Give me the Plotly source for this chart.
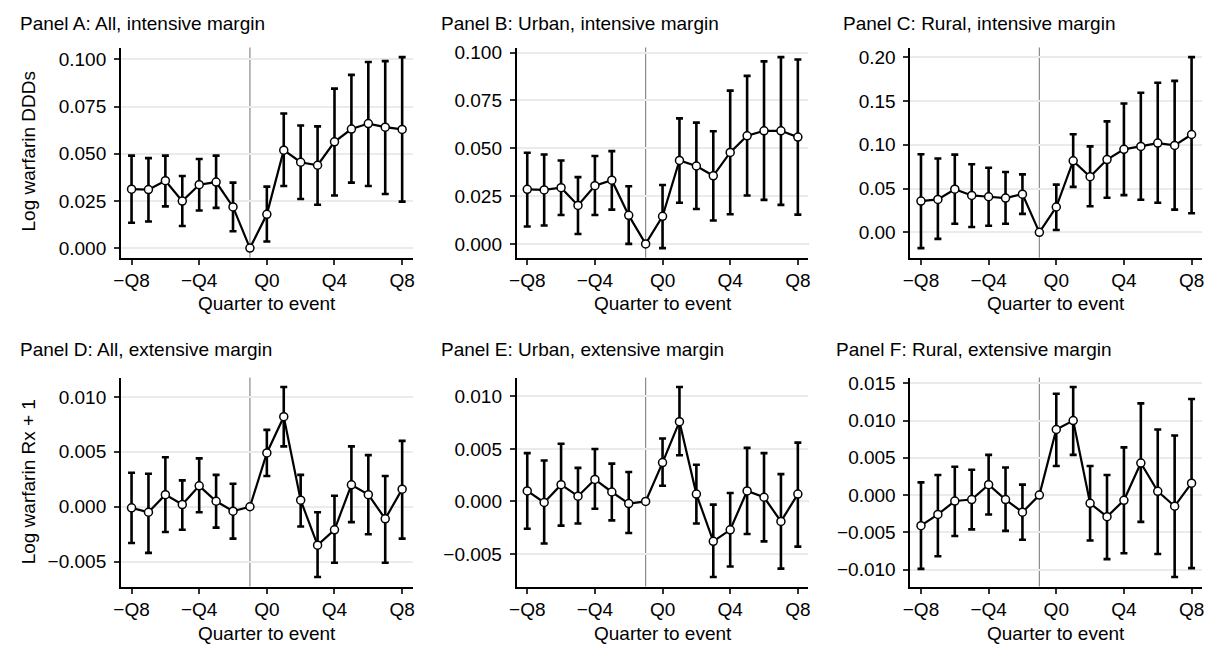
import plotly.graph_objects as go

# Event-study estimates by quarter relative to the event (Q-1 is the reference period)
quarters = list(range(-8, 9))
x_tickvals = [-8, -4, 0, 4, 8]
x_ticktext = ["\u2212Q8", "\u2212Q4", "Q0", "Q4", "Q8"]

# Panel A: All, intensive margin
a_est = [0.0312, 0.0310, 0.0357, 0.0249, 0.0336, 0.0350, 0.0218, 0.0, 0.0179, 0.0519, 0.0455, 0.0439, 0.0563, 0.0631, 0.0660, 0.0641, 0.0629]
a_lo = [0.0134, 0.0141, 0.0221, 0.0117, 0.0199, 0.0213, 0.0089, None, 0.0035, 0.0329, 0.0260, 0.0230, 0.0279, 0.0347, 0.0329, 0.0287, 0.0246]
a_hi = [0.0490, 0.0477, 0.0490, 0.0382, 0.0472, 0.0490, 0.0347, None, 0.0326, 0.0713, 0.0650, 0.0645, 0.0845, 0.0918, 0.0986, 0.0991, 0.1012]

# Panel B: Urban, intensive margin
b_est = [0.0285, 0.0282, 0.0294, 0.0201, 0.0304, 0.0333, 0.0149, 0.0, 0.0144, 0.0436, 0.0407, 0.0356, 0.0478, 0.0565, 0.0591, 0.0591, 0.0558]
b_lo = [0.0091, 0.0096, 0.0151, 0.0052, 0.0151, 0.0179, 0.0000, None, -0.0022, 0.0215, 0.0182, 0.0122, 0.0155, 0.0253, 0.0230, 0.0204, 0.0153]
b_hi = [0.0476, 0.0467, 0.0436, 0.0349, 0.0459, 0.0485, 0.0301, None, 0.0308, 0.0656, 0.0634, 0.0589, 0.0801, 0.0878, 0.0954, 0.0976, 0.0964]

# Panel C: Rural, intensive margin
c_est = [0.0357, 0.0376, 0.0492, 0.0421, 0.0406, 0.0391, 0.0436, 0.0, 0.0289, 0.0816, 0.0635, 0.0831, 0.0947, 0.0981, 0.1019, 0.0992, 0.1117]
c_lo = [-0.0180, -0.0075, 0.0098, 0.0060, 0.0075, 0.0098, 0.0211, None, 0.0026, 0.0519, 0.0297, 0.0395, 0.0425, 0.0372, 0.0338, 0.0259, 0.0218]
c_hi = [0.0891, 0.0842, 0.0887, 0.0778, 0.0737, 0.0688, 0.0662, None, 0.0545, 0.1120, 0.0981, 0.1267, 0.1470, 0.1594, 0.1707, 0.1729, 0.2000]

# Panel D: All, extensive margin
d_est = [-0.0001, -0.0005, 0.0011, 0.0002, 0.0019, 0.0005, -0.0004, 0.0, 0.0049, 0.0082, 0.0006, -0.0035, -0.0021, 0.0020, 0.0011, -0.0011, 0.0016]
d_lo = [-0.0033, -0.0042, -0.0023, -0.0021, -0.0005, -0.0019, -0.0029, None, 0.0028, 0.0055, -0.0018, -0.0064, -0.0051, -0.0014, -0.0025, -0.0051, -0.0029]
d_hi = [0.0031, 0.0030, 0.0045, 0.0024, 0.0044, 0.0029, 0.0021, None, 0.0070, 0.0109, 0.0029, -0.0005, 0.0010, 0.0055, 0.0047, 0.0028, 0.0060]

# Panel E: Urban, extensive margin
e_est = [0.0010, -0.0001, 0.0016, 0.0005, 0.0021, 0.0009, -0.0002, 0.0, 0.0037, 0.0076, 0.0007, -0.0038, -0.0027, 0.0010, 0.0004, -0.0019, 0.0007]
e_lo = [-0.0026, -0.0040, -0.0023, -0.0021, -0.0007, -0.0018, -0.0030, None, 0.0015, 0.0044, -0.0021, -0.0072, -0.0062, -0.0031, -0.0038, -0.0064, -0.0043]
e_hi = [0.0046, 0.0039, 0.0055, 0.0032, 0.0050, 0.0036, 0.0028, None, 0.0060, 0.0109, 0.0035, -0.0003, 0.0008, 0.0051, 0.0046, 0.0026, 0.0056]

# Panel F: Rural, extensive margin
f_est = [-0.0041, -0.0026, -0.0008, -0.0006, 0.0014, -0.0006, -0.0023, 0.0, 0.0088, 0.0100, -0.0011, -0.0029, -0.0007, 0.0043, 0.0005, -0.0015, 0.0016]
f_lo = [-0.0099, -0.0082, -0.0055, -0.0046, -0.0026, -0.0048, -0.0060, None, 0.0039, 0.0054, -0.0061, -0.0086, -0.0078, -0.0036, -0.0079, -0.0110, -0.0098]
f_hi = [0.0017, 0.0027, 0.0038, 0.0034, 0.0054, 0.0037, 0.0014, None, 0.0136, 0.0145, 0.0039, 0.0027, 0.0064, 0.0123, 0.0088, 0.0080, 0.0129]

titles = [
    "Panel A: All, intensive margin",
    "Panel B: Urban, intensive margin",
    "Panel C: Rural, intensive margin",
    "Panel D: All, extensive margin",
    "Panel E: Urban, extensive margin",
    "Panel F: Rural, extensive margin",
]
y_titles = ["Log warfarin DDDs", "Log warfarin Rx + 1"]
x_title = "Quarter to event"

y_ticks = [
    [0.0, 0.025, 0.05, 0.075, 0.1],
    [0.0, 0.025, 0.05, 0.075, 0.1],
    [0.0, 0.05, 0.1, 0.15, 0.2],
    [-0.005, 0.0, 0.005, 0.01],
    [-0.005, 0.0, 0.005, 0.01],
    [-0.01, -0.005, 0.0, 0.005, 0.01, 0.015],
]
y_formats = [".3f", ".3f", ".2f", ".3f", ".3f", ".3f"]

panels = [
    (a_est, a_lo, a_hi), (b_est, b_lo, b_hi), (c_est, c_lo, c_hi),
    (d_est, d_lo, d_hi), (e_est, e_lo, e_hi), (f_est, f_lo, f_hi),
]

W, H = 1211, 646
FONT = "Liberation Sans, Arial, sans-serif"
FS = 19

# pixel layout of each panel: (left, right, top, bottom)
col_px = [(114, 408), (513, 807), (910, 1204)]
row_px = [(43, 255), (376, 587)]
title_x = [10, 435, 840, 10, 435, 833]
title_y = [19, 348]
xtitle_y = [301, 634]
ytitle_y = [147, 481]

X_RANGE = [-8.62, 8.62]

fig = go.Figure()
layout = {}
shapes = []
annotations = []

for i, (est, lo, hi) in enumerate(panels):
    r, c = divmod(i, 3)
    n = i + 1
    xa = "x" if n == 1 else f"x{n}"
    ya = "y" if n == 1 else f"y{n}"
    x0, x1 = col_px[c]
    top, bot = row_px[r]

    err_plus = [None if h is None else h - e for e, h in zip(est, hi)]
    err_minus = [None if l is None else e - l for e, l in zip(est, lo)]

    fig.add_trace(go.Scatter(
        x=quarters, y=est, xaxis=xa, yaxis=ya,
        mode="lines+markers",
        line=dict(color="black", width=2.2),
        marker=dict(symbol="circle", size=8, color="white",
                    line=dict(color="black", width=1.5)),
        error_y=dict(type="data", symmetric=False, array=err_plus,
                     arrayminus=err_minus, color="black", thickness=2.6,
                     width=3.5),
        showlegend=False,
        cliponaxis=False,
    ))

    vals = [v for v in lo + hi + est if v is not None] + [0.0]
    vmin, vmax = min(vals), max(vals)
    pad = 0.05 * (vmax - vmin)
    y_range = [vmin - pad, vmax + pad]

    layout[("xaxis" if n == 1 else f"xaxis{n}")] = dict(
        domain=[x0 / W, x1 / W], anchor=ya, range=X_RANGE,
        tickvals=x_tickvals, ticktext=x_ticktext,
        showgrid=False, zeroline=False,
        showline=True, linecolor="black", linewidth=2,
        ticks="outside", ticklen=5, tickwidth=1.5, tickcolor="#333333",
        tickfont=dict(family=FONT, size=FS, color="black"),
        fixedrange=True,
    )
    layout[("yaxis" if n == 1 else f"yaxis{n}")] = dict(
        domain=[1 - bot / H, 1 - top / H], anchor=xa, range=y_range,
        tickvals=y_ticks[i], tickformat=y_formats[i],
        showgrid=True, gridcolor="#ebebeb", gridwidth=1.5,
        zeroline=False,
        showline=True, linecolor="black", linewidth=2,
        ticks="outside", ticklen=5, tickwidth=1.5, tickcolor="#333333",
        ticklabelstandoff=4,
        tickfont=dict(family=FONT, size=FS, color="black"),
        fixedrange=True,
    )

    # reference lines: zero effect and the omitted period
    shapes.append(dict(type="line", xref=f"{xa} domain", yref=ya,
                       x0=0, x1=1, y0=0, y1=0, layer="below",
                       line=dict(color="#8a8a8a", width=1.2)))
    shapes.append(dict(type="line", xref=xa, yref=f"{ya} domain",
                       x0=-1, x1=-1, y0=0, y1=1, layer="below",
                       line=dict(color="#8a8a8a", width=1.2)))

    annotations.append(dict(text=titles[i], xref="paper", yref="paper",
                            x=title_x[i] / W, y=1 - title_y[r] / H,
                            xanchor="left", yanchor="middle", showarrow=False,
                            font=dict(family=FONT, size=FS, color="black")))
    annotations.append(dict(text=x_title, xref="paper", yref="paper",
                            x=(x0 + x1) / 2 / W, y=1 - xtitle_y[r] / H,
                            xanchor="center", yanchor="middle", showarrow=False,
                            font=dict(family=FONT, size=FS, color="black")))
    if c == 0:
        annotations.append(dict(text=y_titles[r], xref="paper", yref="paper",
                                x=21 / W, y=1 - ytitle_y[r] / H, textangle=-90,
                                xanchor="center", yanchor="middle", showarrow=False,
                                font=dict(family=FONT, size=FS, color="black")))

fig.update_layout(
    width=W, height=H,
    margin=dict(l=0, r=0, t=0, b=0),
    paper_bgcolor="white", plot_bgcolor="white",
    shapes=shapes, annotations=annotations,
    **layout,
)

fig.write_html("out.html", config={"displayModeBar": False})
